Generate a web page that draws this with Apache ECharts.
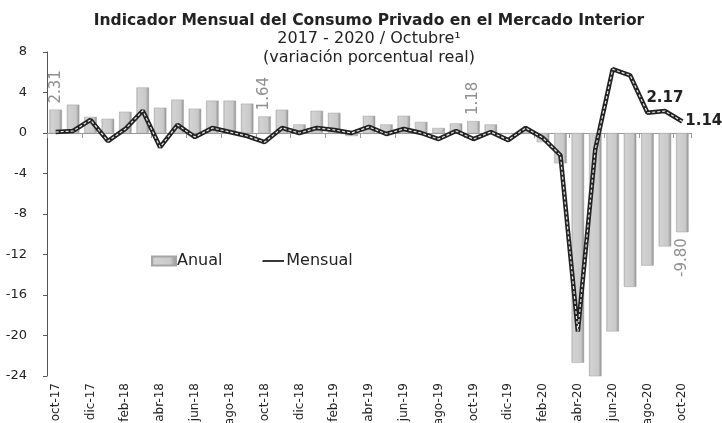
<!DOCTYPE html>
<html>
<head>
<meta charset="utf-8">
<script src="https://cdn.jsdelivr.net/npm/echarts@6/dist/echarts.min.js"></script>
<style>
    html, body { margin: 0; padding: 0; background: #fff; }
    #chart { width: 722px; height: 423px; }
</style>
</head>
<body>
<div id="chart"></div>
<script>
//meses oct-17 .. oct-20
var months = ['oct-17','nov-17','dic-17','ene-18','feb-18','mar-18','abr-18','may-18','jun-18','jul-18','ago-18','sep-18',
    'oct-18','nov-18','dic-18','ene-19','feb-19','mar-19','abr-19','may-19','jun-19','jul-19','ago-19','sep-19',
    'oct-19','nov-19','dic-19','ene-20','feb-20','mar-20','abr-20','may-20','jun-20','jul-20','ago-20','sep-20','oct-20'];
//variacion anual (barras)
var anual = [2.31, 2.8, 1.6, 1.4, 2.1, 4.5, 2.5, 3.3, 2.4, 3.2, 3.2, 2.9,
    1.64, 2.3, 0.85, 2.2, 2.0, -0.3, 1.7, 0.85, 1.7, 1.1, 0.5, 0.95,
    1.18, 0.85, -0.1, 0.3, -0.9, -3.0, -22.7, -24.1, -19.6, -15.2, -13.1, -11.2, -9.80];
//variacion mensual (linea)
var mensual = [0.1, 0.2, 1.3, -0.8, 0.4, 2.2, -1.4, 0.8, -0.4, 0.5, 0.1, -0.3,
    -0.9, 0.5, 0.0, 0.5, 0.3, 0.0, 0.6, -0.1, 0.4, 0.0, -0.6, 0.2,
    -0.6, 0.1, -0.7, 0.5, -0.5, -2.2, -19.6, -1.6, 6.3, 5.7, 2.0, 2.17, 1.14];
var barLabelIdx = [0, 12, 24, 36];

var fontName = 'DejaVu Sans';
var chart = echarts.init(document.getElementById('chart'));

//degradado de las barras
var barGrad = new echarts.graphic.LinearGradient(0, 0, 1, 0, [
    {offset: 0, color: '#b8b8b8'},
    {offset: 0.15, color: '#d2d2d2'},
    {offset: 0.75, color: '#c9c9c9'},
    {offset: 1, color: '#8c8c8c'}
]);

var barData = anual.map(function (v, i) {
    if (barLabelIdx.indexOf(i) < 0) return v;
    var neg = v < 0;
    return {
        value: v,
        label: {
            show: true,
            position: neg ? 'bottom' : 'top',
            rotate: 90,
            align: neg ? 'right' : 'left',
            verticalAlign: 'middle',
            distance: 6,
            color: '#8f8f8f',
            fontSize: 15,
            fontFamily: fontName,
            formatter: function (p) { return p.value.toFixed(2); }
        }
    };
});

var lineData = mensual.map(function (v, i) {
    if (i == 35) return {value: v, label: {show: true, position: 'top', distance: 5}};
    if (i == 36) return {value: v, label: {show: true, position: 'right', distance: 3}};
    return v;
});

var option = {
    backgroundColor: '#fff',
    animation: false,
    title: [{
        text: 'Indicador Mensual del Consumo Privado en el Mercado Interior',
        left: 364, top: 8, textAlign: 'center',
        textStyle: {fontFamily: fontName, fontSize: 15.5, fontWeight: 'bold', color: '#222'}
    }, {
        text: '2017 - 2020 / Octubre¹\n(variación porcentual real)',
        left: 364, top: 24, textAlign: 'center',
        textStyle: {fontFamily: fontName, fontSize: 16, fontWeight: 'normal', color: '#222', lineHeight: 19}
    }],
    legend: {
        left: 146, top: 248,
        itemGap: 40,
        itemWidth: 24, itemHeight: 9,
        textStyle: {fontFamily: fontName, fontSize: 16, color: '#222', padding: [0, 0, 0, -4]},
        data: [
            {name: 'Anual', icon: 'rect'},
            {name: 'Mensual', icon: 'path://M0,4 L24,4 L24,6 L0,6 Z M0,0 L0,0 M0,10 L0,10', itemStyle: {color: '#222'}}
        ]
    },
    grid: {left: 47, right: 31, top: 52, bottom: 47, containLabel: false, outerBoundsMode: 'none'},
    xAxis: [{
        type: 'category',
        data: months,
        position: 'bottom',
        axisLine: {show: false, onZero: false},
        axisTick: {show: false},
        axisLabel: {
            interval: 1, rotate: 90, margin: 7,
            fontFamily: fontName, fontSize: 12, color: '#222'
        }
    }, {
        type: 'category',
        data: months,
        position: 'bottom',
        axisLine: {show: true, onZero: true, lineStyle: {color: '#999', width: 1}},
        axisTick: {show: true, interval: 1, length: 5, lineStyle: {color: '#999'}},
        axisLabel: {show: false}
    }],
    yAxis: {
        type: 'value',
        min: -24, max: 8, interval: 4,
        axisLine: {show: true, lineStyle: {color: '#555'}},
        axisTick: {show: true, length: 4, lineStyle: {color: '#555'}},
        splitLine: {show: false},
        axisLabel: {margin: 20, fontFamily: fontName, fontSize: 13, color: '#222'}
    },
    series: [{
        name: 'Anual',
        type: 'bar',
        xAxisIndex: 1,
        barWidth: '72%',
        data: barData,
        itemStyle: {color: barGrad, borderColor: '#a5a5a5', borderWidth: 0.5}
    }, {
        name: 'Mensual',
        type: 'line',
        xAxisIndex: 1,
        data: lineData,
        symbol: 'circle',
        symbolSize: 0.01,
        showSymbol: true,
        lineStyle: {color: '#222', width: 4.5},
        itemStyle: {color: '#222'},
        label: {fontFamily: fontName, fontSize: 15, fontWeight: 'bold', color: '#222'},
        z: 3
    }, {
        name: 'MensualCentro',
        type: 'line',
        xAxisIndex: 1,
        data: mensual,
        symbol: 'none',
        silent: true,
        lineStyle: {color: '#e8e8e8', width: 1.2, type: [3, 2]},
        z: 4
    }]
};
chart.setOption(option);
</script>
</body>
</html>
